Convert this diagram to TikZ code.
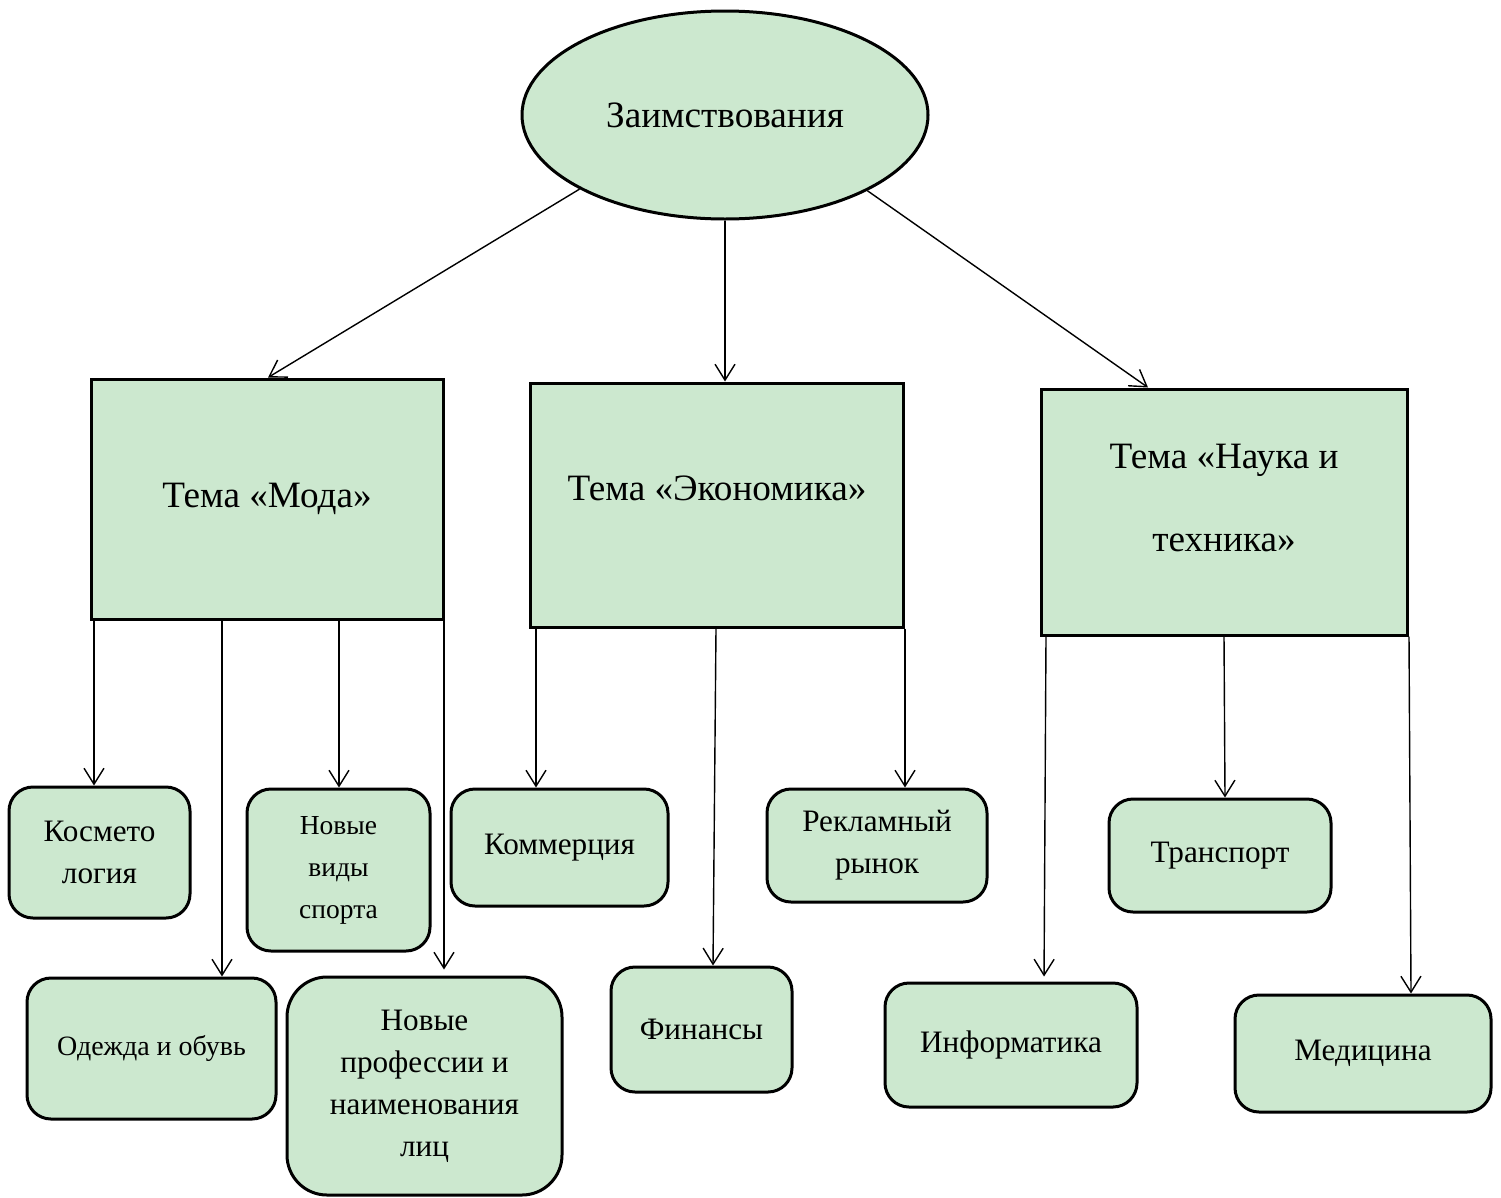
\documentclass[tikz,border=0pt]{standalone}
\usepackage{fontspec}
\setmainfont{Liberation Serif}
\usetikzlibrary{arrows.meta,shapes.geometric}
\definecolor{boxgreen}{RGB}{204,232,207}
\begin{document}
\begin{tikzpicture}[x=1pt,y=-1pt,
  big/.style={font=\fontsize{37.2}{44}\selectfont},
  mid/.style={font=\fontsize{31.2}{42}\selectfont},
  sml/.style={font=\fontsize{27.5}{42}\selectfont},
  topic/.style={draw, line width=3pt, fill=boxgreen, inner sep=0pt, rectangle},
  leaf/.style={draw, line width=3pt, fill=boxgreen, rounded corners=24pt, inner sep=0pt, align=center},
  link/.style={line width=1.4pt, -{Straight Barb[length=16pt,width=20pt]}}]
\useasboundingbox (0,0) rectangle (1501,1197);

% root
\node[ellipse, draw, line width=3pt, fill=boxgreen, inner sep=0pt,
      minimum width=406pt, minimum height=208pt, big] (root) at (725,115) {Заимствования};

% topics
\node[topic, minimum width=352pt, minimum height=240pt, big] (moda) at (267,499) {Тема «Мода»};
\node[topic, minimum width=373pt, minimum height=244pt] (econ) at (716.5,505) {};
\node[big] (econt) at (717,488) {Тема «Экономика»};
\node[topic, minimum width=366pt, minimum height=246pt] (nauka) at (1224,512) {};
\node[align=center, anchor=north, font=\fontsize{37.2}{83}\selectfont] (naukat) at (1224,441)
  {Тема «Наука и\\техника»};

% leaves
\node[leaf, mid, minimum width=181pt, minimum height=131pt] (kosm) at (99.5,852.5) {Космето\\логия};
\node[leaf, sml, minimum width=183pt, minimum height=162pt] (sport) at (338.5,870) {Новые\\виды\\спорта};
\node[leaf, font=\fontsize{28}{42}\selectfont, minimum width=249pt, minimum height=141pt] (odezh) at (151.5,1048.5) {Одежда и обувь};
\node[leaf, mid, rounded corners=40pt, minimum width=275pt, minimum height=218pt] (prof) at (424.5,1086) {Новые\\профессии и\\наименования\\лиц};
\node[leaf, mid, minimum width=217pt, minimum height=117pt] (komm) at (559.5,847.5) {Коммерция};
\node[leaf, mid, minimum width=181pt, minimum height=125pt] (fin) at (701.5,1029.5) {Финансы};
\node[leaf, mid, minimum width=220pt, minimum height=113pt] (rekl) at (877,845.5) {Рекламный\\рынок};
\node[leaf, mid, minimum width=222pt, minimum height=113pt] (trans) at (1220,855.5) {Транспорт};
\node[leaf, mid, minimum width=252pt, minimum height=124pt] (inf) at (1011,1045) {Информатика};
\node[leaf, mid, minimum width=256pt, minimum height=117pt] (med) at (1363,1053.5) {Медицина};

% connectors from root
\draw[link] (root.207.7) -- (moda.north -| 268,0);
\draw[link] (root.south) -- (econ.north -| root.south);
\draw[link] (root.332.7) -- (nauka.north -| 1148,0);

% from Мода
\draw[link] (moda.south -| 94,0) -- (kosm.north -| 94,0);
\draw[link] (moda.south -| 222,0) -- (odezh.north -| 222,0);
\draw[link] (moda.south -| 339,0) -- (sport.north -| 339,0);
\draw[link, shorten >=6pt] (moda.south -| 444,0) -- (prof.north -| 444,0);

% from Экономика
\draw[link] (econ.south -| 536,0) -- (komm.north -| 536,0);
\draw[link] (econ.south -| 716,0) -- (fin.north -| 713,0);
\draw[link] (econ.south -| 905,0) -- (rekl.north -| 905,0);

% from Наука
\draw[link, shorten >=5pt] (nauka.south -| 1046,0) -- (inf.north -| 1044,0);
\draw[link] (nauka.south -| 1224,0) -- (trans.north -| 1225,0);
\draw[link] (nauka.south -| 1409,0) -- (med.north -| 1411,0);
\end{tikzpicture}
\end{document}
